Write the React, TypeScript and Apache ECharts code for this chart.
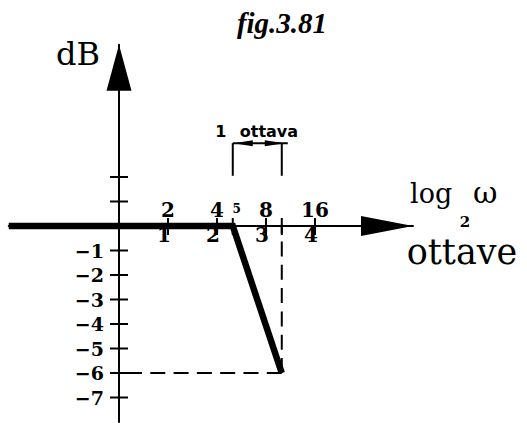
import { useEffect, useRef } from "react";
import * as echarts from "echarts";

// Straight-line (asymptotic) magnitude plot on an octave axis: flat at 0 dB,
// then −6 dB over one octave starting at the corner frequency.
const cornerFreq = 5;
const octaveEndFreq = 10;
const slopeEndDb = -6;
const flatStartOctave = -2.25;

// Octave numbers written under the axis
const octaveTicks = [1, 2, 3, 4];
const octaveTickLabels = ["1", "2", "3", "4"];

// Frequencies written above the axis
const freqTicks = [2, 4, 5, 8, 16];
const freqTickLabels = ["2", "4", "5", "8", "16"];

// dB axis ticks and labels
const dbTicks = [2, 1, -1, -2, -3, -4, -5, -6, -7];
const dbLabelValues = [-1, -2, -3, -4, -5, -6, -7];
const dbLabelTexts = ["−1", "−2", "−3", "−4", "−5", "−6", "−7"];

// Vertical extent (dB) of the "1 ottava" bracket
const bracketDb = [2.05, 3.38];

const X_MIN = -2.25;
const X_MAX = 6;
const Y_MIN = -8;
const Y_MAX = 7.4;
const PX_PER_OCTAVE = 49;
const PX_PER_DB = 24.5;
const ORIGIN_X = 119;
const ORIGIN_Y = 226;

const BLACK = "#000";
const SERIF = '"DejaVu Serif", serif';

const centered = { align: "center", textAlign: "center", verticalAlign: "middle", textVerticalAlign: "middle" };

export default function App() {
  const ref = useRef<HTMLDivElement>(null);

  useEffect(() => {
    if (!ref.current) return;
    const chart = echarts.init(ref.current, null, { renderer: "svg" });

    const log2 = (v: number) => Math.log2(v);
    const xCorner = log2(cornerFreq);
    const xEnd = log2(octaveEndFreq);

    const asymptote = [
      [flatStartOctave, 0],
      [xCorner, 0],
      [xEnd, slopeEndDb],
    ];
    const axisTickX = [...octaveTicks, xCorner, xEnd];

    const gridLeft = ORIGIN_X + X_MIN * PX_PER_OCTAVE;
    const gridTop = ORIGIN_Y - Y_MAX * PX_PER_DB;

    const axisLine = (size: number[]) => ({
      onZero: true,
      lineStyle: { color: BLACK, width: 2 },
      symbol: ["none", "triangle"],
      symbolSize: size,
      symbolOffset: [0, -size[1] / 2],
    });

    const option: any = {
      animation: false,
      backgroundColor: "#fff",
      grid: {
        left: gridLeft,
        top: gridTop,
        width: (X_MAX - X_MIN) * PX_PER_OCTAVE,
        height: (Y_MAX - Y_MIN) * PX_PER_DB,
        containLabel: false,
        outerBoundsMode: "none",
      },
      xAxis: {
        type: "value",
        min: X_MIN,
        max: X_MAX,
        splitLine: { show: false },
        axisTick: { show: false },
        axisLabel: { show: false },
        axisLine: axisLine([20, 52]),
      },
      yAxis: {
        type: "value",
        min: Y_MIN,
        max: Y_MAX,
        splitLine: { show: false },
        axisTick: { show: false },
        axisLabel: { show: false },
        axisLine: axisLine([25, 46]),
      },
      series: [
        {
          name: "asintoto",
          type: "line",
          data: asymptote,
          showSymbol: false,
          symbol: "none",
          clip: false,
          z: 6,
          lineStyle: { color: BLACK, width: 6.5, join: "miter", cap: "butt" },
        },
        {
          name: "guida orizzontale",
          type: "line",
          data: [
            [xEnd, slopeEndDb],
            [0, slopeEndDb],
          ],
          showSymbol: false,
          symbol: "none",
          z: 3,
          lineStyle: { color: BLACK, width: 2, type: [15, 8.3] },
        },
        {
          name: "guida verticale",
          type: "line",
          data: [
            [xEnd, slopeEndDb],
            [xEnd, 0],
          ],
          showSymbol: false,
          symbol: "none",
          z: 3,
          lineStyle: { color: BLACK, width: 2, type: [15, 8.3] },
        },
        {
          // tick marks crossing the frequency axis
          type: "custom",
          silent: true,
          z: 4,
          data: axisTickX.map((x) => [x, 0]),
          renderItem: (_p: any, api: any) => {
            const p = api.coord([api.value(0), api.value(1)]);
            return {
              type: "line",
              shape: { x1: p[0], y1: p[1] - 8, x2: p[0], y2: p[1] + 9 },
              style: { stroke: BLACK, lineWidth: 2 },
            };
          },
        },
        {
          // tick marks crossing the dB axis
          type: "custom",
          silent: true,
          z: 4,
          data: dbTicks.map((d) => [0, d]),
          renderItem: (_p: any, api: any) => {
            const p = api.coord([api.value(0), api.value(1)]);
            return {
              type: "line",
              shape: { x1: p[0] - 9, y1: p[1], x2: p[0] + 9, y2: p[1] },
              style: { stroke: BLACK, lineWidth: 2 },
            };
          },
        },
        {
          // dB values left of the vertical axis
          type: "custom",
          silent: true,
          z: 4,
          data: dbLabelValues.map((d) => [0, d]),
          renderItem: (params: any, api: any) => {
            const p = api.coord([api.value(0), api.value(1)]);
            return {
              type: "text",
              x: p[0] - 15,
              y: p[1],
              style: {
                text: dbLabelTexts[params.dataIndex],
                fill: BLACK,
                fontFamily: SERIF,
                fontWeight: "bold",
                fontSize: 19,
                align: "right",
                textAlign: "right",
                verticalAlign: "middle",
                textVerticalAlign: "middle",
              },
            };
          },
        },
        {
          // octave numbers under the axis
          type: "custom",
          silent: true,
          z: 4,
          data: octaveTicks.map((o) => [o, 0]),
          renderItem: (params: any, api: any) => {
            const p = api.coord([api.value(0), api.value(1)]);
            return {
              type: "text",
              x: p[0] - 4,
              y: p[1] + 9,
              style: {
                text: octaveTickLabels[params.dataIndex],
                fill: BLACK,
                fontFamily: SERIF,
                fontWeight: "bold",
                fontSize: 20,
                ...centered,
              },
            };
          },
        },
        {
          // frequency values above the axis
          type: "custom",
          silent: true,
          z: 4,
          data: freqTicks.map((f) => [log2(f), 0]),
          renderItem: (params: any, api: any) => {
            const p = api.coord([api.value(0), api.value(1)]);
            const small = freqTicks[params.dataIndex] === cornerFreq;
            return {
              type: "text",
              x: p[0] + (small ? 4 : 0),
              y: p[1] - (small ? 17 : 16),
              style: {
                text: freqTickLabels[params.dataIndex],
                fill: BLACK,
                fontFamily: SERIF,
                fontWeight: "bold",
                fontSize: small ? 12 : 20,
                ...centered,
              },
            };
          },
        },
        {
          // "1 ottava" bracket between the corner and the next octave
          type: "custom",
          silent: true,
          z: 4,
          data: [[xCorner, xEnd]],
          renderItem: (_p: any, api: any) => {
            const a = api.coord([api.value(0), bracketDb[0]]);
            const b = api.coord([api.value(0), bracketDb[1]]);
            const c = api.coord([api.value(1), bracketDb[0]]);
            const d = api.coord([api.value(1), bracketDb[1]]);
            const y = b[1];
            const stroke = { stroke: BLACK, lineWidth: 2 };
            const label = {
              fill: BLACK,
              fontFamily: '"DejaVu Sans", sans-serif',
              fontWeight: "bold",
              fontSize: 16,
              verticalAlign: "middle",
              textVerticalAlign: "middle",
            };
            return {
              type: "group",
              children: [
                { type: "line", shape: { x1: a[0], y1: a[1], x2: b[0], y2: b[1] }, style: stroke },
                { type: "line", shape: { x1: c[0], y1: c[1], x2: d[0], y2: d[1] }, style: stroke },
                { type: "line", shape: { x1: b[0], y1: y, x2: d[0] + 6, y2: y }, style: stroke },
                {
                  type: "polygon",
                  shape: { points: [[b[0] + 1, y], [b[0] + 20, y - 3], [b[0] + 20, y + 3]] },
                  style: { fill: BLACK },
                },
                {
                  type: "polygon",
                  shape: { points: [[d[0] + 3, y], [d[0] - 17, y - 3], [d[0] - 17, y + 3]] },
                  style: { fill: BLACK },
                },
                {
                  type: "text",
                  x: b[0] - 12,
                  y: y - 11.5,
                  style: { ...label, text: "1", align: "center", textAlign: "center" },
                },
                {
                  type: "text",
                  x: b[0] + 7,
                  y: y - 11.5,
                  style: { ...label, text: "ottava", align: "left", textAlign: "left" },
                },
              ],
            };
          },
        },
      ],
      graphic: [
        {
          type: "text",
          x: 282,
          y: 22.5,
          style: { text: "fig.3.81", fill: BLACK, font: 'italic bold 29px "Liberation Serif", serif', ...centered },
        },
        {
          type: "text",
          x: 78,
          y: 54,
          style: { text: "dB", fill: BLACK, font: '32px "DejaVu Serif", serif', ...centered },
        },
        {
          type: "text",
          x: 410,
          y: 193.5,
          style: {
            text: "log",
            fill: BLACK,
            font: '27px "DejaVu Serif", serif',
            align: "left",
            textAlign: "left",
            verticalAlign: "middle",
            textVerticalAlign: "middle",
          },
        },
        {
          type: "text",
          x: 465,
          y: 221.5,
          style: { text: "2", fill: BLACK, font: 'bold 15px "DejaVu Serif", serif', ...centered },
        },
        {
          type: "text",
          x: 473,
          y: 192.5,
          style: {
            text: "ω",
            fill: BLACK,
            font: '30px "DejaVu Serif", serif',
            align: "left",
            textAlign: "left",
            verticalAlign: "middle",
            textVerticalAlign: "middle",
          },
        },
        {
          type: "text",
          x: 462,
          y: 251.5,
          style: { text: "ottave", fill: BLACK, font: '35px "DejaVu Serif", serif', ...centered },
        },
      ],
    };

    chart.setOption(option);
    return () => chart.dispose();
  }, []);

  return (
    <div
      ref={ref}
      style={{ position: "fixed", left: 0, top: 0, width: 527, height: 423, background: "#fff" }}
    />
  );
}
